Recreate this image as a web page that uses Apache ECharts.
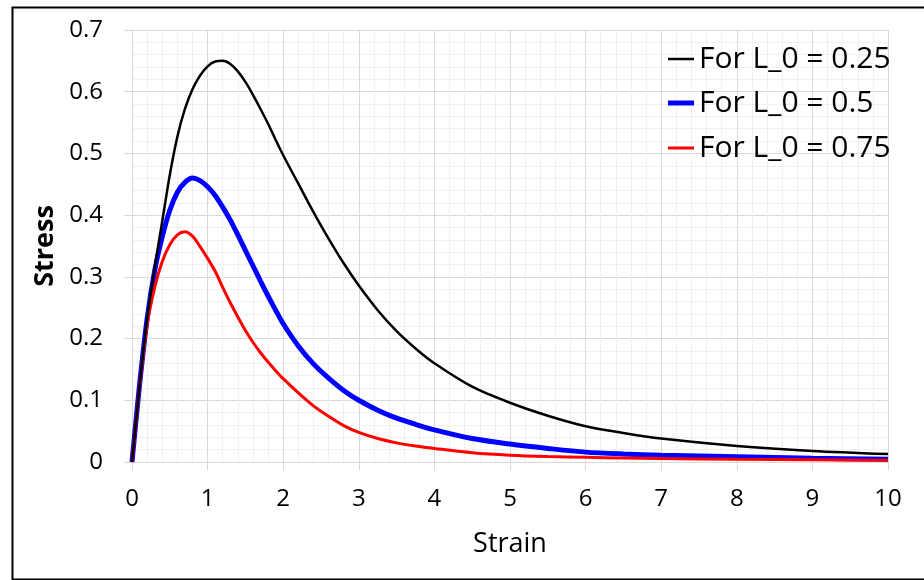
<!DOCTYPE html>
<html>
<head>
<meta charset="utf-8">
<script src="https://cdn.jsdelivr.net/npm/echarts@6/dist/echarts.min.js"></script>
<style>
html,body{margin:0;padding:0;background:#fff;}
#chart{width:924px;height:580px;}
</style>
</head>
<body>
<div id="chart"></div>
<script>
const strain = [0, 0.1, 0.2, 0.3, 0.4, 0.5, 0.6, 0.7, 0.8, 0.9, 1.0, 1.1, 1.2, 1.3, 1.4, 1.5, 1.6, 1.7, 1.8, 1.9, 2.0, 2.2, 2.4, 2.6, 2.8, 3.0, 3.25, 3.5, 3.75, 4.0, 4.5, 5.0, 5.5, 6.0, 6.5, 7.0, 8.0, 9.0, 10.0];
const stressL025 = [0, 0.123, 0.232, 0.315, 0.390, 0.465, 0.527, 0.572, 0.604, 0.626, 0.641, 0.649, 0.650, 0.645, 0.633, 0.616, 0.595, 0.572, 0.548, 0.522, 0.497, 0.451, 0.405, 0.362, 0.322, 0.286, 0.246, 0.212, 0.184, 0.160, 0.122, 0.096, 0.075, 0.058, 0.047, 0.038, 0.026, 0.018, 0.013];
const stressL05 = [0, 0.125, 0.232, 0.31, 0.365, 0.408, 0.437, 0.453, 0.460, 0.456, 0.446, 0.432, 0.413, 0.392, 0.368, 0.343, 0.318, 0.293, 0.269, 0.246, 0.224, 0.188, 0.159, 0.136, 0.116, 0.100, 0.084, 0.071, 0.061, 0.052, 0.038, 0.029, 0.022, 0.016, 0.013, 0.011, 0.0085, 0.0062, 0.0045];
const stressL075 = [0, 0.122, 0.222, 0.283, 0.325, 0.352, 0.368, 0.373, 0.366, 0.349, 0.330, 0.309, 0.283, 0.258, 0.235, 0.213, 0.194, 0.177, 0.162, 0.148, 0.135, 0.112, 0.091, 0.074, 0.059, 0.048, 0.038, 0.031, 0.026, 0.022, 0.015, 0.011, 0.0088, 0.0075, 0.0065, 0.0055, 0.0043, 0.0035, 0.003];
const seriesNames = ['For L_0 = 0.25', 'For L_0 = 0.5', 'For L_0 = 0.75'];
const seriesColors = ['#000000', '#0000ff', '#ff0000'];
const seriesWidths = [2.5, 5, 3];
const xTicks = {min: 0, max: 10, interval: 1};
const yTicks = {min: 0, max: 0.7, interval: 0.1};

const pairs = (ys) => strain.map((x, i) => [x, ys[i]]);
const FONT = 'Open Sans';
const legendTops = [44, 88, 133];
const chart = echarts.init(document.getElementById('chart'), null, {renderer: 'canvas'});
chart.setOption({
  animation: false,
  backgroundColor: '#fff',
  textStyle: {fontFamily: FONT},
  graphic: [{
    type: 'rect', left: 10, top: 5, z: 100,
    shape: {x: 0, y: 0, width: 940, height: 572},
    style: {fill: 'none', stroke: '#000', lineWidth: 2}
  }],
  grid: {left: 132, right: 36, top: 30, bottom: 118, containLabel: false},
  legend: seriesNames.map((n, i) => ({
    orient: 'vertical', left: 668, top: legendTops[i], padding: 0,
    itemWidth: 26, itemHeight: seriesWidths[i], icon: 'rect',
    selectedMode: false,
    textStyle: {fontFamily: FONT, fontSize: 30, lineHeight: 30, color: '#000'},
    data: [n]
  })),
  xAxis: {
    type: 'value', min: xTicks.min, max: xTicks.max, interval: xTicks.interval,
    name: 'Strain', nameLocation: 'middle', nameGap: 69,
    nameTextStyle: {fontSize: 27, color: '#000', fontFamily: FONT},
    axisLine: {show: true, lineStyle: {color: '#d9d9d9', width: 1}},
    axisTick: {show: true, length: 8, lineStyle: {color: '#d9d9d9'}},
    axisLabel: {fontSize: 24, color: '#000', margin: 25, fontFamily: FONT},
    splitLine: {show: true, lineStyle: {color: '#d9d9d9', width: 1}},
    minorTick: {show: false, splitNumber: 5},
    minorSplitLine: {show: true, lineStyle: {color: '#f0f0f0', width: 1}}
  },
  yAxis: {
    type: 'value', min: yTicks.min, max: yTicks.max, interval: yTicks.interval,
    name: 'Stress', nameLocation: 'middle', nameGap: 70,
    nameTextStyle: {fontSize: 27, fontWeight: 'bold', color: '#000', fontFamily: FONT},
    axisLine: {show: true, lineStyle: {color: '#d9d9d9', width: 1}},
    axisTick: {show: true, length: 8, lineStyle: {color: '#d9d9d9'}},
    axisLabel: {fontSize: 24, color: '#000', margin: 29, fontFamily: FONT},
    splitLine: {show: true, lineStyle: {color: '#d9d9d9', width: 1}},
    minorTick: {show: false, splitNumber: 5},
    minorSplitLine: {show: true, lineStyle: {color: '#f0f0f0', width: 1}}
  },
  series: seriesNames.map((n, i) => ({
    name: n, type: 'line', smooth: 0.3, symbol: 'none',
    data: pairs([stressL025, stressL05, stressL075][i]),
    lineStyle: {color: seriesColors[i], width: seriesWidths[i]},
    itemStyle: {color: seriesColors[i]},
    z: [4, 2, 3][i]
  }))
});
</script>
</body>
</html>
